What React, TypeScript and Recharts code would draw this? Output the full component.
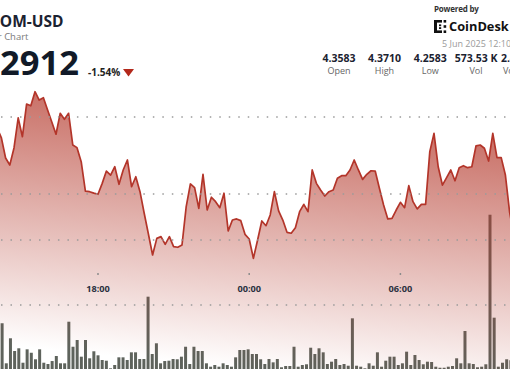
import React from 'react';
import { ComposedChart, Area, Bar, Line, XAxis, YAxis, ReferenceLine } from 'recharts';

const FONT = '"Open Sans", "Noto Sans", sans-serif';

const SYMBOL = 'ATOM-USD';
const SUBTITLE = '24 Hour Chart';
const LAST_PRICE = '4.2912';
const CHANGE = '-1.54%';
const POWERED = 'Powered by';
const BRAND = 'CoinDesk';
const UPDATED = '5 Jun 2025 12:10';
const STAT_VALUES = ['4.3583', '4.3710', '4.2583', '573.53 K', '2.47 M'];
const STAT_LABELS = ['Open', 'High', 'Low', 'Vol', 'Vol USD'];

// time axis (minutes since 00:00 of the first day)
const TIME_TICKS = [1080, 1440, 1800];
const TIME_LABELS = ['18:00', '00:00', '06:00'];
const FIRST_MINUTE = 830;
const STEP_MINUTES = 10;

// price, one point every 10 minutes
const PRICES = [
  4.3468, 4.3429, 4.3364, 4.3234, 4.3188, 4.3299, 4.3494, 4.3372, 4.3584, 4.3573,
  4.3664, 4.3610, 4.3625, 4.3545, 4.3468, 4.3388, 4.3524, 4.3485, 4.3524, 4.3318,
  4.3301, 4.3210, 4.3019, 4.3015, 4.3006, 4.2998, 4.3069, 4.3149, 4.3123, 4.3177,
  4.3063, 4.3156, 4.3221, 4.3047, 4.3112, 4.3015, 4.2875, 4.2740, 4.2604, 4.2712,
  4.2723, 4.2673, 4.2723, 4.2658, 4.2654, 4.2669, 4.2918, 4.3065, 4.3041, 4.2907,
  4.3128, 4.2896, 4.2979, 4.2950, 4.2911, 4.3005, 4.2760, 4.2831, 4.2838, 4.2827,
  4.2738, 4.2708, 4.2582, 4.2701, 4.2825, 4.2794, 4.2864, 4.3015, 4.2890, 4.2831,
  4.2751, 4.2745, 4.2781, 4.2885, 4.2933, 4.2885, 4.3156, 4.3069, 4.3026, 4.2987,
  4.3015, 4.3026, 4.3102, 4.3119, 4.3119, 4.3156, 4.3221, 4.3156, 4.3095, 4.3128,
  4.3151, 4.3149, 4.3037, 4.2929, 4.2838, 4.2842, 4.2896, 4.2946, 4.2911, 4.3054,
  4.2950, 4.2903, 4.2933, 4.2933, 4.3275, 4.3394, 4.3177, 4.3058, 4.3106, 4.3156,
  4.3086, 4.3171, 4.3184, 4.3171, 4.3177, 4.3312, 4.3318, 4.3297, 4.3214, 4.3394,
  4.3236, 4.3236, 4.3123, 4.2883, 4.2734,
];

// volume per bar, thousands
const VOLUMES = [
  2.0,
  7.18, 1.03, 4.88, 2.92, 3.34, 1.12, 3.18, 2.66, 1.65, 3.18,
  1.12, 0.92, 1.38, 2.15, 1.03, 1.03, 7.43, 3.58, 4.62, 2.05,
  4.62, 1.80, 2.88, 2.26, 1.54, 1.43, 0.26, 0.77, 1.95, 1.95,
  1.54, 2.72, 2.72, 1.69, 1.69, 11.28, 2.46, 4.11, 1.03, 1.38,
  1.43, 1.69, 1.65, 2.05, 3.58, 0.92, 3.58, 2.92, 2.92, 1.03,
  0.51, 0.77, 0.51, 1.03, 0.77, 0.51, 1.95, 3.08, 3.08, 3.18,
  2.46, 2.46, 1.65, 0.92, 1.69, 1.18, 1.69, 0.42, 0.62, 0.62,
  3.58, 0.51, 0.77, 0.88, 3.43, 2.46, 3.34, 2.72, 0.92, 1.28,
  1.69, 0.77, 0.92, 0.66, 7.95, 0.66, 0.51, 0.26, 1.03, 0.66,
  2.72, 0.51, 1.43, 2.05, 2.05, 0.77, 1.03, 2.82, 0.77, 2.31,
  1.54, 0.88, 1.28, 1.23, 0.51, 0.35, 0.35, 0.51, 0.62, 1.80,
  1.03, 6.00, 1.03, 0.92, 0.42, 0.51, 0.88, 23.89, 8.05, 0.51,
  1.12, 1.65, 1.50,
  1.2,
];

const PRICE_GRID = [4.35, 4.3];
const VOLUME_GRID = [10, 20];

const rows = PRICES.map((price, k) => ({
  t: FIRST_MINUTE + k * STEP_MINUTES,
  price,
  bar: k,
  vol: VOLUMES[k],
}));

const W = 510;
const H = 370;
const TIME_DOMAIN: [number, number] = [846.667, 2060.952];
const BAR_DOMAIN: [number, number] = [0.5923, 122.896];
const PRICE_DOMAIN: [number, number] = [4.18571, 4.42597];
const VOL_DOMAIN: [number, number] = [0, 56.923];
const MARGIN = { top: 0, right: 0, bottom: 0, left: 0 };

const fmtTime = (v: number) => {
  const i = TIME_TICKS.indexOf(v);
  return i >= 0 ? TIME_LABELS[i] : '';
};

const abs = (s: React.CSSProperties): React.CSSProperties => ({ position: 'absolute', whiteSpace: 'nowrap', fontFamily: FONT, ...s });
const layer: React.CSSProperties = { position: 'absolute', left: 0, top: 0 };

const CoinDeskIcon = () => (
  <svg width={13} height={13} viewBox="0 0 13 13" style={{ position: 'absolute', left: 434, top: 20 }}>
    <rect x={0} y={0} width={3} height={13} fill="#111" />
    <rect x={3} y={0} width={5} height={2.6} fill="#111" />
    <rect x={3} y={10.4} width={5} height={2.6} fill="#111" />
    <rect x={9.6} y={0} width={2.6} height={2.6} fill="#111" />
    <rect x={9.6} y={10.4} width={2.6} height={2.6} fill="#111" />
    <rect x={5} y={4.4} width={2.2} height={1.8} fill="#111" />
    <rect x={5} y={7.2} width={2.2} height={1.8} fill="#111" />
    <rect x={9.6} y={5.2} width={2.6} height={2.6} fill="#111" />
  </svg>
);

export default function App() {
  const statCenters = [339, 384.5, 430.3, 476];
  return (
    <div style={{ position: 'absolute', left: 0, top: 0, width: W, height: 369, overflow: 'hidden', background: '#fff' }}>
      {/* volume bars (drawn first, under the price area) */}
      <div style={layer}>
        <ComposedChart width={W} height={H} data={rows} margin={MARGIN}>
          <XAxis xAxisId="b" dataKey="bar" type="number" domain={BAR_DOMAIN} allowDataOverflow hide />
          <YAxis yAxisId="v" type="number" domain={VOL_DOMAIN} allowDataOverflow hide />
          <Bar xAxisId="b" yAxisId="v" dataKey="vol" barSize={3} fill="#5e635c" isAnimationActive={false} />
        </ComposedChart>
      </div>
      {/* price area + dotted grid */}
      <div style={layer}>
        <ComposedChart width={W} height={H} data={rows} margin={MARGIN}>
          <defs>
            <linearGradient id="areaFill" gradientUnits="userSpaceOnUse" x1="0" y1="95" x2="-24.75" y2="342.5">
              <stop offset="0" stopColor="#b4392c" stopOpacity={0.7} />
              <stop offset="1" stopColor="#b4392c" stopOpacity={0} />
            </linearGradient>
          </defs>
          <XAxis xAxisId="t" dataKey="t" type="number" domain={TIME_DOMAIN} allowDataOverflow hide />
          <YAxis yAxisId="p" type="number" domain={PRICE_DOMAIN} allowDataOverflow hide />
          <YAxis yAxisId="v" type="number" domain={VOL_DOMAIN} allowDataOverflow hide />
          <Area
            xAxisId="t"
            yAxisId="p"
            type="linear"
            dataKey="price"
            stroke="#b3352a"
            strokeWidth={1.7}
            strokeLinejoin="round"
            fill="url(#areaFill)"
            fillOpacity={1}
            dot={false}
            activeDot={false}
            isAnimationActive={false}
          />
          {PRICE_GRID.map((v) => (
            <ReferenceLine key={'p' + v} xAxisId="t" yAxisId="p" y={v} stroke="#9a9a9a" strokeWidth={1.3} strokeDasharray="0 1 1.5 6.99" />
          ))}
          {VOLUME_GRID.map((v) => (
            <ReferenceLine key={'v' + v} xAxisId="t" yAxisId="v" y={v} stroke="#9a9a9a" strokeWidth={1.3} strokeDasharray="0 1 1.5 6.99" />
          ))}
        </ComposedChart>
      </div>
      {/* time axis labels */}
      <div style={{ ...layer, pointerEvents: 'none' }}>
        <ComposedChart width={W} height={303} data={rows} margin={MARGIN}>
          <XAxis
            dataKey="t"
            type="number"
            domain={TIME_DOMAIN}
            allowDataOverflow
            ticks={TIME_TICKS}
            tickFormatter={fmtTime}
            axisLine={false}
            tickLine={{ stroke: '#8c8c8c', strokeWidth: 1.5 }}
            tickSize={2}
            tickMargin={10}
            height={30}
            tick={{ fontSize: 9.2, fontWeight: 700, fill: '#2b3140', fontFamily: FONT }}
          />
          <YAxis type="number" domain={PRICE_DOMAIN} allowDataOverflow hide />
          <Line dataKey="price" stroke="none" dot={false} activeDot={false} isAnimationActive={false} />
        </ComposedChart>
      </div>

      <div style={abs({ right: W - 63.5, top: 14.4, fontSize: 15.5, lineHeight: '15.5px', fontWeight: 700, color: '#1b2230' })}>{SYMBOL}</div>
      <div style={abs({ right: W - 28.5, top: 31.6, fontSize: 9.5, lineHeight: '9.5px', color: '#7a7a7a' })}>{SUBTITLE}</div>
      <div style={abs({ right: W - 79, top: 45, fontSize: 34.5, lineHeight: '34.5px', fontWeight: 700, color: '#111a28' })}>{LAST_PRICE}</div>
      <div style={abs({ left: 88, top: 67.2, fontSize: 10, lineHeight: '10px', fontWeight: 700, color: '#222' })}>{CHANGE}</div>
      <svg width={11} height={8} style={{ position: 'absolute', left: 122.5, top: 68.8 }}>
        <polygon points="0,0 11,0 5.5,7.5" fill="#b3281b" />
      </svg>

      <div style={abs({ left: 434, top: 4.9, fontSize: 8, lineHeight: '8px', fontWeight: 700, color: '#333', letterSpacing: -0.2 })}>{POWERED}</div>
      <CoinDeskIcon />
      <div style={abs({ left: 449, top: 19.6, fontSize: 12.8, lineHeight: '12.8px', fontWeight: 700, color: '#111' })}>{BRAND}</div>
      <div style={abs({ left: 442, top: 38.8, fontSize: 9, lineHeight: '9px', color: '#9a9a9a' })}>{UPDATED}</div>

      {statCenters.map((c, i) => (
        <React.Fragment key={STAT_LABELS[i]}>
          <div style={abs({ left: c - 30, width: 60, textAlign: 'center', top: 53, fontSize: 10.5, lineHeight: '10.5px', fontWeight: 700, color: '#1b2230' })}>{STAT_VALUES[i]}</div>
          <div style={abs({ left: c - 30, width: 60, textAlign: 'center', top: 66, fontSize: 9, lineHeight: '9px', color: '#666' })}>{STAT_LABELS[i]}</div>
        </React.Fragment>
      ))}
      <div style={abs({ left: 501, top: 53, fontSize: 10.5, lineHeight: '10.5px', fontWeight: 700, color: '#1b2230' })}>{STAT_VALUES[4]}</div>
      <div style={abs({ left: 503, top: 66, fontSize: 9, lineHeight: '9px', color: '#666' })}>{STAT_LABELS[4]}</div>
    </div>
  );
}
